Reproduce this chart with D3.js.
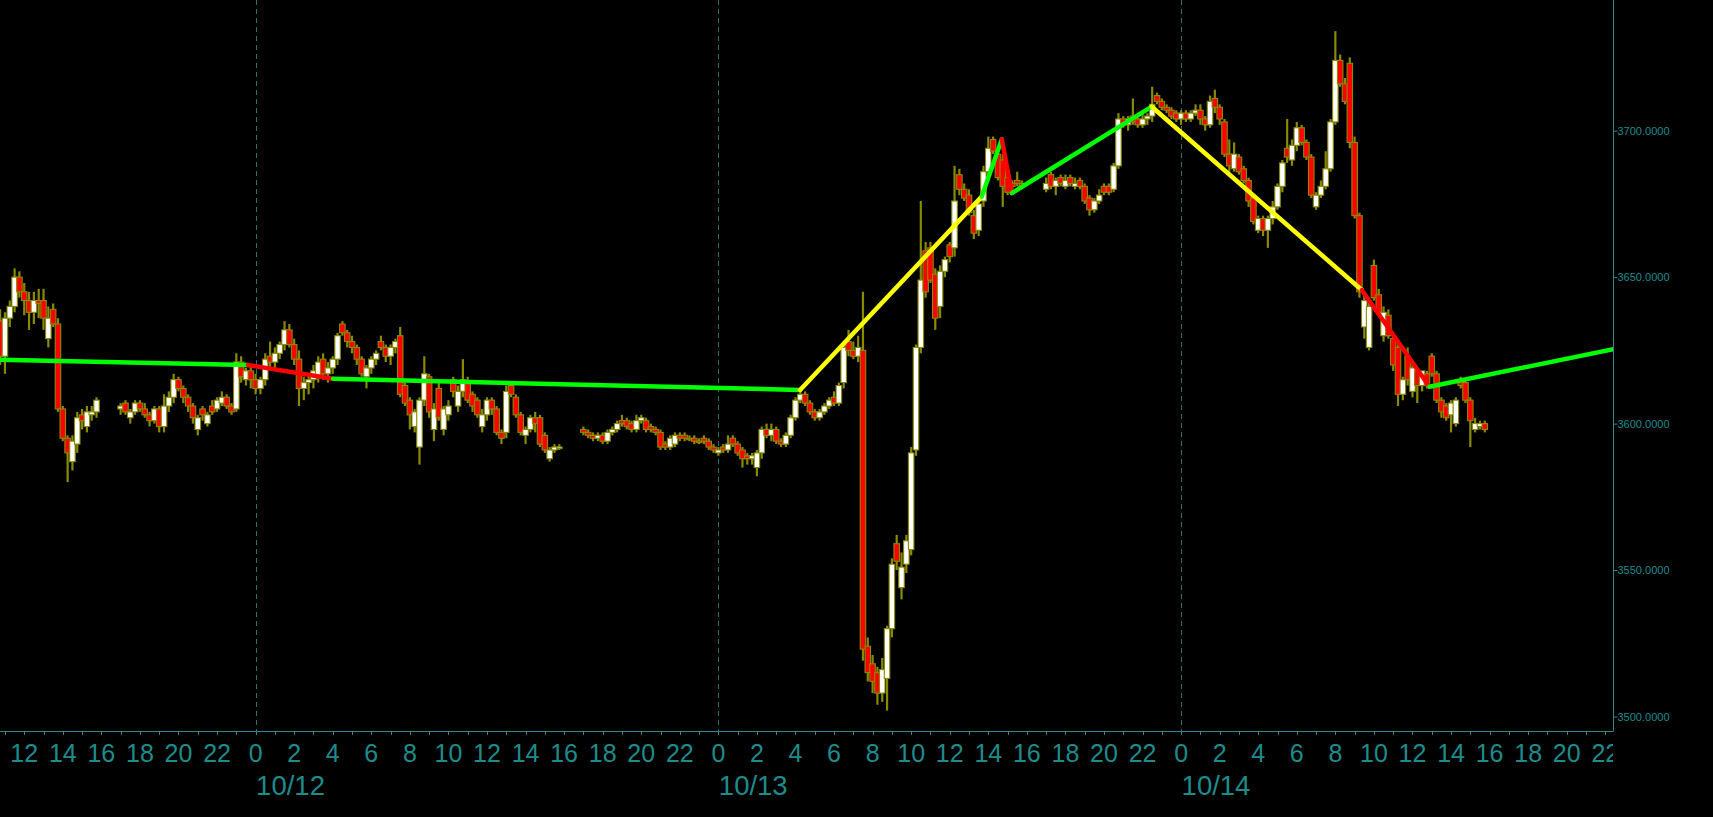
<!DOCTYPE html>
<html>
<head>
<meta charset="utf-8">
<script src="https://cdn.jsdelivr.net/npm/d3@7/dist/d3.min.js"></script>
<style>
  html, body { margin: 0; padding: 0; background: #000; }
  svg { display: block; }
</style>
</head>
<body>
<script>
// ---------------- DATA ----------------
// 15-minute bars [open, high, low, close]; times are hours relative to 10/12 00:00
const sessionStartHours = [-13.25, -7, 17, 41];

const sessA = [
  [3635,3639,3620,3623],[3623,3638,3617,3636],[3636,3642,3633,3640],[3640,3653,3638,3650],
  [3650,3652,3643,3645],[3645,3648,3637,3642],[3642,3645,3632,3638],[3638,3645,3634,3642],
  [3642,3646,3636,3641],[3642,3646,3632,3636],[3629,3640,3626,3636],[3639,3641,3633,3634],
  [3634,3636,3604,3605],[3605,3606,3594,3595],[3595,3596,3580,3590],[3587,3596,3584,3594],
  [3593,3604,3590,3602],[3603,3605,3598,3601],[3599,3606,3597,3604],[3603,3606,3601,3604],
  [3604,3609,3602,3608]
];

const sessB = [
  [3605,3607,3603,3606],[3607,3608,3603,3604],[3602,3605,3600,3604],[3604,3608,3603,3607],
  [3607,3608,3604,3605],[3605,3607,3602,3603],[3603,3604,3599,3601],[3601,3606,3600,3605],
  [3605,3606,3597,3599],[3599,3610,3597,3606],[3606,3611,3604,3609],[3609,3617,3607,3615],
  [3615,3616,3611,3612],[3612,3613,3607,3609],[3609,3610,3604,3606],[3606,3607,3600,3602],
  [3598,3603,3596,3602],[3605,3606,3601,3603],[3600,3604,3599,3603],[3606,3608,3603,3604],
  [3605,3609,3604,3608],[3607,3611,3606,3609],[3609,3610,3605,3606],[3606,3607,3603,3604],
  [3605,3624,3604,3621],[3621,3623,3614,3616],[3615,3619,3613,3618],[3618,3620,3612,3615],
  [3615,3617,3610,3612],[3612,3616,3610,3615],[3615,3624,3613,3622],[3623,3628,3619,3621],
  [3621,3626,3619,3624],[3624,3628,3622,3627],[3627,3635,3625,3632],[3632,3634,3626,3627],
  [3627,3629,3620,3622],[3622,3625,3606,3612],[3612,3616,3608,3614],[3614,3617,3610,3615],
  [3615,3620,3612,3618],[3616,3623,3614,3621],[3622,3624,3615,3617],[3617,3621,3614,3619],
  [3619,3623,3617,3622],[3622,3631,3620,3630],[3634,3635,3630,3631],[3631,3632,3626,3628],
  [3628,3630,3624,3626],[3626,3627,3620,3622],[3622,3623,3616,3617],[3616,3620,3612,3619],
  [3619,3623,3617,3622],[3622,3625,3620,3624],[3628,3630,3625,3626],[3626,3627,3621,3623],
  [3623,3627,3620,3626],[3626,3629,3624,3628],[3630,3633,3609,3610],[3613,3614,3606,3607],
  [3608,3609,3598,3603],[3599,3605,3597,3604],[3592,3609,3586,3608],[3608,3623,3606,3617],
  [3616,3617,3602,3604],[3598,3607,3594,3605],[3612,3614,3601,3602],[3598,3606,3596,3605],
  [3603,3608,3601,3606],[3615,3616,3609,3611],[3606,3613,3604,3611],[3611,3622,3609,3615],
  [3614,3616,3607,3608],[3610,3611,3604,3606],[3608,3609,3602,3603],[3599,3605,3597,3603],
  [3603,3609,3601,3608],[3608,3609,3603,3605],[3605,3606,3596,3597],[3597,3598,3593,3595],
  [3597,3613,3595,3611],[3613,3614,3609,3610],[3609,3610,3602,3603],[3603,3604,3596,3597],
  [3596,3599,3593,3598],[3598,3603,3597,3602],[3602,3604,3597,3600],[3602,3603,3592,3593],
  [3596,3597,3590,3591],[3588,3592,3587,3591],[3591,3593,3590,3592],[3592,3593,3591,3592]
];

const sessC = [
  [3598,3599,3596,3597],[3597,3598,3595,3596],[3596,3597,3594,3595],[3595,3597,3594,3596],
  [3596,3597,3593,3594],[3594,3598,3593,3597],[3597,3599,3596,3598],[3598,3601,3597,3600],
  [3601,3603,3599,3600],[3601,3602,3598,3599],[3600,3601,3597,3598],[3598,3603,3597,3601],
  [3601,3603,3600,3602],[3601,3602,3597,3598],[3599,3600,3597,3598],[3598,3599,3596,3597],
  [3597,3598,3591,3592],[3593,3594,3591,3592],[3592,3596,3591,3595],[3593,3597,3592,3596],
  [3596,3597,3594,3595],[3596,3597,3594,3595],[3595,3596,3594,3594.5],[3595,3596,3593,3594],
  [3594,3595,3593,3593.5],[3595,3596,3593,3594],[3594,3595,3591,3592],[3592,3593,3590,3591],
  [3590,3592,3589,3591],[3592,3593,3590,3591],[3591,3596,3590,3593],[3595,3596,3592,3593],
  [3593,3594,3589,3590],[3591,3592,3585,3588],[3589,3590,3586,3588],[3588,3590,3586,3589],
  [3585,3591,3582,3590],[3590,3599,3588,3598],[3598,3600,3595,3596],[3596,3600,3594,3598],
  [3598,3599,3593,3594],[3594,3595,3592,3593],[3593,3597,3592,3596],[3596,3603,3595,3602],
  [3602,3609,3601,3608],[3608,3612,3607,3610],[3610,3611,3606,3607],[3607,3608,3603,3604],
  [3604,3605,3601,3602],[3602,3605,3601,3604],[3604,3607,3603,3606],[3606,3609,3605,3608],
  [3609,3611,3606,3607],[3607,3614,3606,3613],[3614,3627,3612,3626],[3628,3632,3623,3625],
  [3625,3628,3622,3623],[3623,3630,3621,3626],[3625,3645,3519,3523],[3524,3527,3512,3515],
  [3518,3521,3508,3512],[3515,3517,3504,3508],[3508,3520,3505,3516],[3513,3531,3502,3530],
  [3530,3554,3527,3552],[3559,3562,3550,3553],[3544,3556,3540,3551],[3552,3562,3549,3560],
  [3557,3592,3555,3590],[3591,3627,3589,3626],[3626,3676,3624,3649],[3659,3662,3643,3645],
  [3660,3662,3648,3649],[3651,3653,3632,3636],[3640,3654,3636,3652],[3652,3657,3650,3656],
  [3661,3662,3655,3657],[3660,3688,3657,3676],[3685,3687,3678,3680],[3680,3682,3676,3677],
  [3678,3680,3671,3672],[3671,3673,3663,3665],[3666,3677,3664,3675],[3676,3688,3674,3686],
  [3686,3698,3684,3694],[3697,3698,3692,3693],[3692,3693,3683,3684],[3690,3692,3674,3681],
  [3684,3686,3678,3679],[3682,3683,3680,3681],[3683,3686,3681,3682],[3682,3683,3680,3681]
];

const sessD = [
  [3680,3684,3679,3682],[3685,3686,3680,3681],[3681,3684,3678,3683],[3684,3685,3681,3682],
  [3681,3685,3680,3683],[3684,3685,3681,3682],[3681,3684,3680,3682],[3683,3684,3680,3681],
  [3681,3682,3675,3676],[3677,3678,3671,3673],[3673,3677,3672,3676],[3676,3680,3675,3678],
  [3681,3682,3678,3679],[3681,3682,3678,3679],[3680,3689,3679,3688],[3688,3706,3687,3704],
  [3704,3705,3701,3702],[3702,3705,3700,3704],[3705,3711,3702,3703],[3704,3705,3701,3702],
  [3702,3706,3701,3704],[3704,3706,3702,3705],[3705,3715,3703,3709],[3712,3713,3709,3710],
  [3710,3711,3707,3708],[3708,3709,3706,3707],[3707,3708,3704,3705],[3706,3707,3703,3704],
  [3704,3707,3702,3706],[3706,3707,3703,3704],[3704,3707,3703,3706],[3706,3709,3705,3707],
  [3707,3709,3702,3704],[3704,3705,3700,3702],[3702,3712,3701,3710],[3711,3714,3706,3708],
  [3708,3709,3702,3704],[3703,3704,3691,3692],[3692,3697,3686,3688],[3687,3696,3686,3692],
  [3691,3692,3685,3686],[3687,3688,3682,3683],[3683,3684,3674,3676],[3677,3678,3668,3669],
  [3666,3671,3665,3670],[3670,3671,3664,3666],[3666,3671,3660,3670],[3670,3676,3668,3674],
  [3674,3682,3673,3681],[3681,3690,3679,3689],[3694,3704,3689,3691],[3690,3697,3688,3695],
  [3695,3703,3693,3701],[3701,3702,3695,3696],[3696,3697,3690,3691],[3691,3692,3677,3678],
  [3674,3679,3673,3678],[3678,3683,3677,3681],[3681,3693,3680,3687],[3687,3704,3686,3703],
  [3703,3734,3702,3724],[3724,3726,3715,3716],[3716,3718,3709,3710],[3723,3725,3694,3696],
  [3696,3698,3670,3671],[3671,3672,3643,3645],[3633,3645,3629,3642],[3626,3642,3625,3640],
  [3654,3656,3642,3643],[3644,3646,3637,3638],[3630,3640,3628,3638],[3637,3639,3629,3630],
  [3629,3631,3618,3620],[3626,3627,3606,3610],[3610,3616,3608,3615],[3623,3626,3613,3615],
  [3611,3620,3609,3619],[3618,3619,3607,3613],[3613,3618,3611,3618],[3617,3618,3612,3613],
  [3623,3624,3616,3617],[3617,3618,3607,3608],[3608,3609,3602,3604],[3606,3607,3601,3602],
  [3603,3608,3597,3607],[3600,3609,3599,3608],[3615,3616,3612,3613],[3614,3615,3607,3608],
  [3608,3609,3592,3601],[3598,3602,3597,3600],[3599,3601,3598,3600],[3600,3601,3597,3598]
];

const sessionBars = [sessA, sessB, sessC, sessD];

// zigzag overlay: pivot points (hours, price) and the colour of each leg
const zzHours  = [-13.26, -0.39, 4.02, 28.24, 37.66, 38.70, 39.22, 46.48, 57.37, 60.88, 70.42];
const zzPrices = [3621.8, 3620.0, 3615.3, 3611.5, 3677.5, 3697.1, 3678.7, 3708.2, 3645.6, 3612.6, 3625.4];
const zzColors = ['#00ff00','#ff0000','#00ff00','#ffff00','#00ff00','#ff0000','#00ff00','#ffff00','#ff0000','#00ff00'];

const yTicks = [3500, 3550, 3600, 3650, 3700];
const domainHours = [-13.257, 70.40];

// ---------------- CHART ----------------
const W = 1713, H = 817;
const plotR = 1613, plotB = 731;
const TEAL = '#1f8c8c', AXIS = '#2e8a8a', GRID = '#2a7272';
const OLIVE = '#8a8a00';

const BASE = Date.UTC(2022, 9, 12);
const hd = h => new Date(BASE + h * 3600e3);

const x = d3.scaleUtc().domain(domainHours.map(hd)).range([0, plotR]);
const y = d3.scaleLinear().domain([3500, 3700]).range([716.5, 130.7]);

const svg = d3.select('body').append('svg').attr('width', W).attr('height', H);
svg.append('rect').attr('width', W).attr('height', H).attr('fill', '#000');

const defs = svg.append('defs');
defs.append('clipPath').attr('id', 'plot').append('rect')
  .attr('x', 0).attr('y', 0).attr('width', plotR).attr('height', plotB);
defs.append('clipPath').attr('id', 'xlab').append('rect')
  .attr('x', 0).attr('y', plotB).attr('width', plotR).attr('height', H - plotB);

// day gridlines
const days = d3.utcDay.range(x.domain()[0], x.domain()[1]);
svg.append('g').selectAll('line').data(days).join('line')
  .attr('x1', d => Math.round(x(d)) + 0.5).attr('x2', d => Math.round(x(d)) + 0.5)
  .attr('y1', 0).attr('y2', plotB)
  .attr('stroke', GRID).attr('stroke-width', 1).attr('stroke-dasharray', '5,4');

// candles
const bars = [];
sessionBars.forEach((arr, si) => {
  arr.forEach((b, i) => {
    bars.push({ t: hd(sessionStartHours[si] + i * 0.25), o: b[0], h: b[1], l: b[2], c: b[3] });
  });
});

const cg = svg.append('g').attr('clip-path', 'url(#plot)');
const bw = 5.5;
const cs = cg.selectAll('g.c').data(bars).join('g').attr('class', 'c');
cs.append('line')
  .attr('x1', d => x(d.t)).attr('x2', d => x(d.t))
  .attr('y1', d => y(d.h)).attr('y2', d => y(d.l))
  .attr('stroke', OLIVE).attr('stroke-width', 2.2);
cs.append('rect')
  .attr('x', d => x(d.t) - bw / 2)
  .attr('y', d => y(Math.max(d.o, d.c)))
  .attr('width', bw)
  .attr('height', d => Math.max(1.5, Math.abs(y(d.o) - y(d.c))))
  .attr('fill', d => d.c >= d.o ? '#ffffff' : '#ff0000')
  .attr('stroke', OLIVE).attr('stroke-width', 1.1);

// zigzag legs
const zg = svg.append('g').attr('clip-path', 'url(#plot)');
const legs = zzColors.map((col, i) => ({
  col, pts: [[zzHours[i], zzPrices[i]], [zzHours[i + 1], zzPrices[i + 1]]]
}));
const line = d3.line().x(d => x(hd(d[0]))).y(d => y(d[1]));
zg.selectAll('path').data(legs).join('path')
  .attr('d', d => line(d.pts))
  .attr('fill', 'none').attr('stroke', d => d.col)
  .attr('stroke-width', 4.5).attr('stroke-linecap', 'round');

// axis lines
svg.append('line').attr('x1', 0).attr('x2', plotR + 0.5).attr('y1', plotB + 0.5).attr('y2', plotB + 0.5)
  .attr('stroke', AXIS).attr('stroke-width', 1);
svg.append('line').attr('x1', plotR + 0.5).attr('x2', plotR + 0.5).attr('y1', 0).attr('y2', plotB + 0.5)
  .attr('stroke', AXIS).attr('stroke-width', 1);

// x ticks (hourly) and labels (every 2h)
const hours = d3.utcHour.range(x.domain()[0], x.domain()[1]);
svg.append('g').selectAll('line').data(hours).join('line')
  .attr('x1', d => Math.round(x(d)) + 0.5).attr('x2', d => Math.round(x(d)) + 0.5)
  .attr('y1', plotB + 1).attr('y2', plotB + 4)
  .attr('stroke', AXIS).attr('stroke-width', 1);

const labHours = d3.utcHour.every(2).range(x.domain()[0], x.domain()[1]);
const xl = svg.append('g').attr('clip-path', 'url(#xlab)');
xl.selectAll('text.h').data(labHours).join('text').attr('class', 'h')
  .attr('x', d => x(d)).attr('y', 761.5)
  .attr('text-anchor', 'middle')
  .attr('font-family', '"Liberation Sans", Arial, sans-serif')
  .attr('font-size', 25).attr('fill', TEAL)
  .text(d => d.getUTCHours());

xl.selectAll('text.d').data(days).join('text').attr('class', 'd')
  .attr('x', d => x(d) + 0.5).attr('y', 795)
  .attr('text-anchor', 'start')
  .attr('font-family', '"Liberation Sans", Arial, sans-serif')
  .attr('font-size', 27.5).attr('fill', TEAL)
  .text(d => d3.utcFormat('%m/%d')(d));

// right y axis
const ya = svg.append('g').attr('transform', `translate(${plotR + 0.5},0)`)
  .call(d3.axisRight(y).tickValues(yTicks).tickSize(4).tickPadding(0).tickFormat(d3.format('.4f')));
ya.select('.domain').remove();
ya.selectAll('.tick line').attr('stroke', AXIS);
ya.selectAll('.tick text').attr('fill', TEAL)
  .attr('font-family', '"Liberation Sans", Arial, sans-serif').attr('font-size', 11);
</script>
</body>
</html>
